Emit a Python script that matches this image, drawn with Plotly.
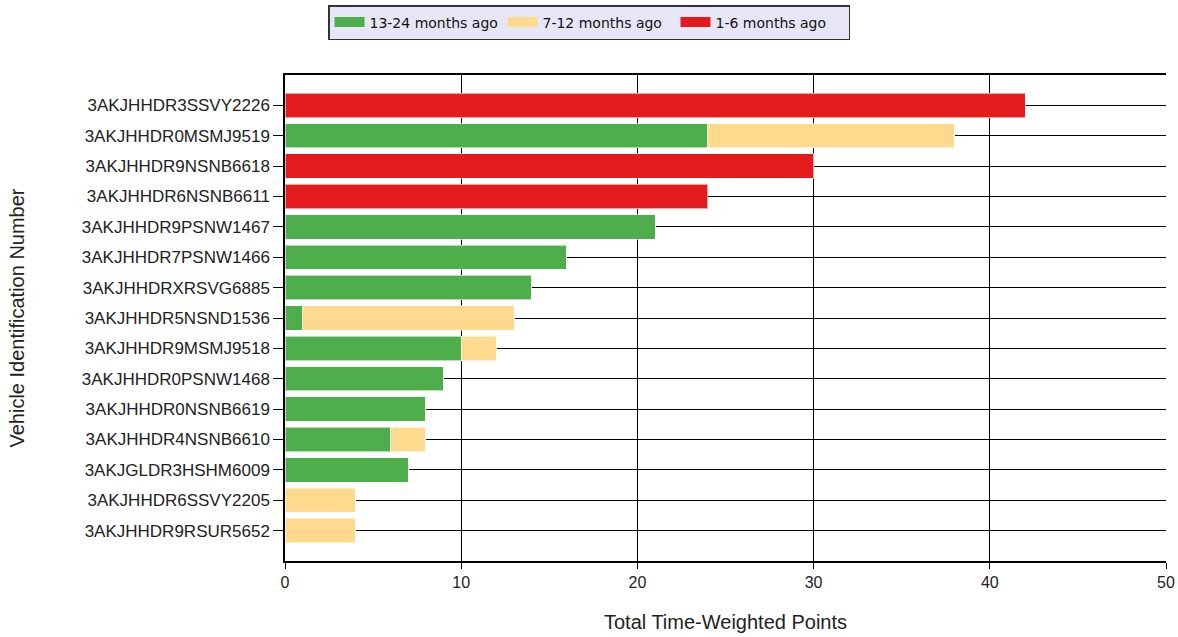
import plotly.graph_objects as go

vins = ["3AKJHHDR3SSVY2226", "3AKJHHDR0MSMJ9519", "3AKJHHDR9NSNB6618", "3AKJHHDR6NSNB6611",
        "3AKJHHDR9PSNW1467", "3AKJHHDR7PSNW1466", "3AKJHHDRXRSVG6885", "3AKJHHDR5NSND1536",
        "3AKJHHDR9MSMJ9518", "3AKJHHDR0PSNW1468", "3AKJHHDR0NSNB6619", "3AKJHHDR4NSNB6610",
        "3AKJGLDR3HSHM6009", "3AKJHHDR6SSVY2205", "3AKJHHDR9RSUR5652"]
months_13_24 = [0, 24, 0, 0, 21, 16, 14, 1, 10, 9, 8, 6, 7, 0, 0]
months_7_12 = [0, 14, 0, 0, 0, 0, 0, 12, 2, 0, 0, 2, 0, 4, 4]
months_1_6 = [42, 0, 30, 24, 0, 0, 0, 0, 0, 0, 0, 0, 0, 0, 0]
x_ticks = [0, 10, 20, 30, 40, 50]

series = [("13-24 months ago", months_13_24, "#4DAE4B"),
          ("7-12 months ago", months_7_12, "#FED98E"),
          ("1-6 months ago", months_1_6, "#E41A1C")]

fig = go.Figure()
for name, vals, col in series:
    fig.add_trace(go.Bar(y=vins, x=vals, name=name, orientation="h", width=0.8, showlegend=False,
                         legendgroup=name,
                         marker=dict(color=col, line=dict(color="rgba(255,255,255,0.6)", width=1))))
# legend entries drawn as wide swatches
for name, vals, col in series:
    fig.add_trace(go.Scatter(x=[None], y=[None], mode="lines", name=name, legendgroup=name,
                             line=dict(color=col, width=14), hoverinfo="skip"))

fig.update_layout(
    barmode="stack",
    width=1178, height=637,
    margin=dict(l=285, r=12, t=75, b=76, autoexpand=False),
    paper_bgcolor="white", plot_bgcolor="white",
    font=dict(family="Liberation Sans, Arial, sans-serif", color="#222"),
    legend=dict(orientation="h", xref="container", yref="container", x=0.5, xanchor="center",
                y=1 - 5 / 637, yanchor="top", bgcolor="#E6E6F7", bordercolor="#333333", borderwidth=1.5,
                font=dict(family="DejaVu Sans", size=14, color="#111"), itemwidth=30,
                entrywidth=128, traceorder="normal"),
    xaxis=dict(range=[0, 50], tickvals=x_ticks, showgrid=True, gridcolor="black", gridwidth=1,
               showline=True, linecolor="black", linewidth=1.5, mirror=True, ticks="outside",
               ticklen=6, tickcolor="black", zeroline=False, automargin=False,
               tickfont=dict(size=16, color="#222"),
               title=dict(text="Total Time-Weighted Points", font=dict(size=20, color="#222"), standoff=25)),
    yaxis=dict(categoryorder="array", categoryarray=vins, range=[15, -1], showgrid=True,
               gridcolor="black", gridwidth=1, showline=True, linecolor="black", linewidth=1.5,
               ticks="outside", ticklen=10, tickcolor="black", automargin=False,
               tickfont=dict(size=17, color="#222"),
               title=dict(text="Vehicle Identification Number", font=dict(size=20, color="#222"), standoff=52)),
)

fig.write_html("out.html", post_script="document.body.style.margin='0';",
               config={"displayModeBar": False})
